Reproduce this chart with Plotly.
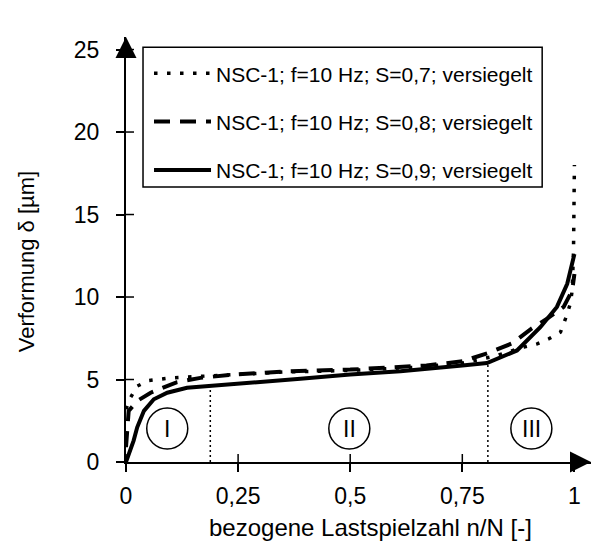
import plotly.graph_objects as go

# ---- data ----
x_s07 = [0, 0.01, 0.025, 0.051, 0.1, 0.2, 0.35, 0.5, 0.65, 0.75, 0.82, 0.887, 0.917, 0.943, 0.969, 0.98, 0.991, 0.995, 0.998, 1.0]
y_s07 = [3.2, 3.9, 4.6, 4.94, 5.1, 5.25, 5.45, 5.55, 5.75, 6.0, 6.4, 6.96, 7.16, 7.47, 7.87, 8.68, 9.6, 10.4, 12.8, 18.0]

x_s08 = [0, 0.003, 0.006, 0.025, 0.055, 0.114, 0.166, 0.24, 0.36, 0.5, 0.67, 0.75, 0.807, 0.862, 0.905, 0.94, 0.976, 0.995, 1.0]
y_s08 = [0.9, 1.9, 3.1, 3.7, 4.2, 4.84, 5.1, 5.3, 5.5, 5.6, 5.85, 6.1, 6.6, 7.2, 8.1, 8.7, 9.4, 10.4, 11.4]

x_s09 = [0, 0.017, 0.025, 0.04, 0.062, 0.092, 0.136, 0.188, 0.278, 0.389, 0.5, 0.612, 0.75, 0.805, 0.872, 0.924, 0.961, 0.984, 1.0]
y_s09 = [0, 1.3, 2.1, 3.1, 3.8, 4.2, 4.5, 4.6, 4.8, 5.04, 5.3, 5.5, 5.85, 6.0, 6.76, 8.17, 9.4, 10.8, 12.6]

names = ["NSC-1; f=10 Hz; S=0,7; versiegelt",
         "NSC-1; f=10 Hz; S=0,8; versiegelt",
         "NSC-1; f=10 Hz; S=0,9; versiegelt"]

# phase boundaries (x, top y)
bound_x = [0.188, 0.807]
bound_top = [4.45, 5.9]

# phase labels
phase_x = [0.092, 0.498, 0.904]
phase_y = [2.03, 2.03, 2.03]
phase_txt = ["I", "II", "III"]

x_tickvals = [0, 0.25, 0.5, 0.75, 1]
x_ticktext = ["0", "0,25", "0,5", "0,75", "1"]
y_tickvals = [0, 5, 10, 15, 20, 25]

FONT = "Liberation Sans, Arial, sans-serif"

fig = go.Figure()
for xb, yt in zip(bound_x, bound_top):
    fig.add_trace(go.Scatter(x=[xb, xb], y=[0, yt], mode="lines", showlegend=False,
                             line=dict(color="black", width=1.5, dash="2px,3px"), hoverinfo="skip"))

fig.add_trace(go.Scatter(x=x_s07, y=y_s07, mode="lines", name=names[0], legendgroup="a",
                         line=dict(color="black", width=3.5, dash="3.5px,9.5px")))
fig.add_trace(go.Scatter(x=x_s08, y=y_s08, mode="lines", name=names[1], legendgroup="b",
                         line=dict(color="black", width=4, dash="16px,10px")))
fig.add_trace(go.Scatter(x=x_s09, y=y_s09, mode="lines", name=names[2], legendgroup="c",
                         line=dict(color="black", width=4)))

shapes = []
# inner halves of tick marks (ticks cross the axes)
for v in y_tickvals[1:]:
    shapes.append(dict(type="line", xref="x", yref="y", xsizemode="pixel", xanchor=0,
                       x0=0, x1=8, y0=v, y1=v, line=dict(color="black", width=1.5)))
for v in x_tickvals:
    shapes.append(dict(type="line", xref="x", yref="y", ysizemode="pixel", yanchor=0,
                       y0=0, y1=8, x0=v, x1=v, line=dict(color="black", width=1.5)))
# circles around phase labels
for px, py in zip(phase_x, phase_y):
    shapes.append(dict(type="circle", xref="x", yref="y", xsizemode="pixel", ysizemode="pixel",
                       xanchor=px, yanchor=py, x0=-20.5, x1=20.5, y0=-20.5, y1=20.5,
                       line=dict(color="black", width=1.5)))
# legend frame
shapes.append(dict(type="rect", xref="paper", yref="paper", x0=0.0366, x1=0.895, y0=0.647, y1=0.976,
                   line=dict(color="black", width=1.5), fillcolor="rgba(0,0,0,0)"))

annotations = []
for px, py, t in zip(phase_x, phase_y, phase_txt):
    annotations.append(dict(x=px, y=py, xref="x", yref="y", text=t, showarrow=False,
                            font=dict(family=FONT, size=23, color="black")))
# axis arrows
annotations.append(dict(x=0, y=1, xref="x", yref="paper", ax=0, ay=20, text="",
                        showarrow=True, arrowhead=2, arrowsize=2.1, arrowwidth=2, arrowcolor="black"))
annotations.append(dict(x=1, y=0, xref="paper", yref="y", ax=-20, ay=0, text="",
                        showarrow=True, arrowhead=2, arrowsize=2.1, arrowwidth=2, arrowcolor="black"))
# axis titles
annotations.append(dict(x=-0.215, y=0.47, xref="paper", yref="paper", text="Verformung δ [µm]",
                        textangle=-90, showarrow=False, xanchor="center", yanchor="middle",
                        font=dict(family=FONT, size=22, color="black")))
annotations.append(dict(x=0.525, y=-0.155, xref="paper", yref="paper", text="bezogene Lastspielzahl n/N [-]",
                        showarrow=False, xanchor="center", yanchor="middle",
                        font=dict(family=FONT, size=24, color="black")))

fig.update_layout(
    width=593, height=547,
    margin=dict(l=126, r=2, t=37, b=85),
    paper_bgcolor="white", plot_bgcolor="white",
    font=dict(family=FONT, size=23, color="black"),
    shapes=shapes, annotations=annotations,
    legend=dict(x=0.0495, y=0.962, xanchor="left", yanchor="top",
                borderwidth=0, bgcolor="rgba(0,0,0,0)",
                font=dict(family=FONT, size=21, color="black"),
                traceorder="grouped", tracegroupgap=18, itemwidth=57),
)
fig.update_xaxes(range=[0, 1.037], tickvals=x_tickvals, ticktext=x_ticktext,
                 showline=True, linecolor="black", linewidth=2, ticks="outside", ticklen=8,
                 tickwidth=1.5, tickcolor="black", showgrid=False, zeroline=False,
                 ticklabelstandoff=4, tickfont=dict(family=FONT, size=23))
fig.update_yaxes(range=[0, 25.76], tickvals=y_tickvals,
                 showline=True, linecolor="black", linewidth=2, ticks="outside", ticklen=8,
                 tickwidth=1.5, tickcolor="black", showgrid=False, zeroline=False,
                 ticklabelstandoff=12, tickfont=dict(family=FONT, size=23))

fig.write_html("out.html")
